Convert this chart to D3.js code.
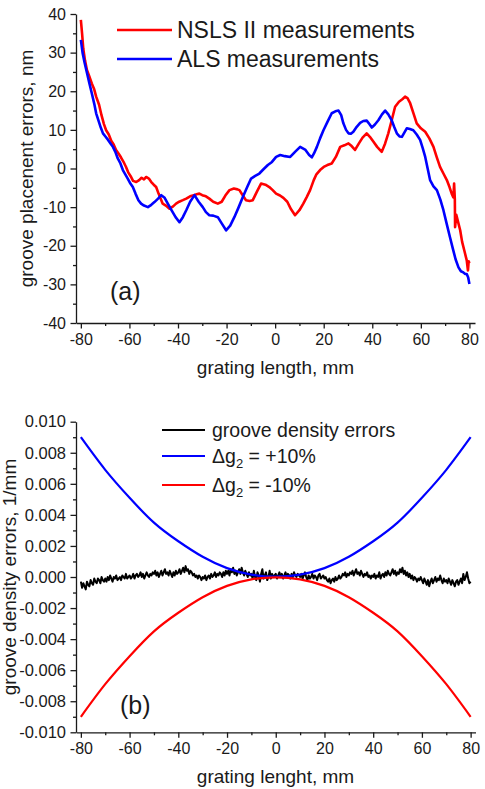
<!DOCTYPE html>
<html>
<head>
<meta charset="utf-8">
<script src="https://cdn.jsdelivr.net/npm/d3@7"></script>
<style>
  html, body { margin: 0; padding: 0; background: #fff; }
  svg { display: block; font-family: "Liberation Sans", Arial, sans-serif; }
</style>
</head>
<body>
<svg id="chart" width="485" height="789"></svg>
<script>
// Shared x ticks (grating position, mm)
const xTicks = [-80, -60, -40, -20, 0, 20, 40, 60, 80];
const xMinorTicks = [-70, -50, -30, -10, 10, 30, 50, 70];

// Panel (a) ticks
const topYTicks = [-40, -30, -20, -10, 0, 10, 20, 30, 40];
const topYMinor = [-35, -25, -15, -5, 5, 15, 25, 35];

// Panel (b) ticks
const bottomYTicks = [-0.010, -0.008, -0.006, -0.004, -0.002, 0.000, 0.002, 0.004, 0.006, 0.008, 0.010];
const bottomYMinor = [-0.009, -0.007, -0.005, -0.003, -0.001, 0.001, 0.003, 0.005, 0.007, 0.009];

// Panel (a): NSLS II measurements [mm, nm]
const nsls = [
  [-80, 38.5], [-79.5, 35], [-79, 31], [-78.3, 28], [-77.5, 25.5], [-76.5, 23.8], [-75.5, 22],
  [-74.5, 20.5], [-73.7, 18.6], [-72.5, 16.5], [-71.5, 13.8], [-70.5, 11.5], [-69.6, 9.9],
  [-68.5, 8.8], [-67.5, 7.2], [-66.5, 6.2], [-65.5, 4.8], [-64.5, 3.9], [-63.5, 2.9], [-62.5, 1.8],
  [-61.4, 0.4], [-60.5, -1.0], [-59.5, -2.0], [-58.5, -3.2], [-57.2, -3.5], [-56, -3.0], [-55, -2.4],
  [-54, -2.8], [-53.1, -2.2], [-52, -2.6], [-51, -3.5], [-50, -4.2], [-49, -4.8], [-48, -6.5],
  [-47, -8.0], [-46.3, -9.1], [-45, -9.6], [-43.5, -10.4], [-42, -9.8], [-40.8, -9.1], [-39.5, -8.6],
  [-38, -8.2], [-36.6, -7.8], [-35, -7.2], [-33.5, -6.9], [-32, -6.6], [-31.2, -6.5], [-30, -6.9],
  [-28.5, -7.2], [-27.1, -7.8], [-25.5, -8.6], [-23.6, -9.1], [-22, -8.6], [-20.5, -7.0], [-18.8, -5.6],
  [-17, -5.2], [-15.5, -5.4], [-14.7, -5.6], [-13.5, -6.8], [-12, -8.2], [-10.5, -8.4], [-9.2, -8.2],
  [-7.5, -6.0], [-5.8, -3.9], [-4, -4.2], [-2.4, -4.8], [-1, -5.6], [0.4, -6.5], [2, -7.0], [3.4, -7.6],
  [5, -8.6], [6.5, -10.5], [8.2, -12.1], [10, -10.8], [11.6, -9.1], [13, -7.4], [14.4, -5.6],
  [15.9, -3.0], [17, -1.5], [18.5, -0.4], [20, 0.4], [21.5, 0.9], [23.3, 1.3], [25, 3.0], [26.8, 5.6],
  [28.5, 6.0], [30.2, 6.5], [31.5, 5.8], [32.9, 4.8], [34.5, 6.5], [36, 8.0], [37.7, 9.1], [39, 8.2],
  [40.5, 6.9], [42, 5.6], [43.9, 4.3], [45.3, 6.5], [46.6, 9.1], [48, 12.5], [49.4, 16.0], [51, 17.3],
  [52.5, 18.0], [53.5, 18.6], [54.5, 18.2], [55.6, 16.9], [57, 14.2], [58.3, 11.7], [60, 10.4],
  [61.8, 9.5], [63.5, 7.8], [65.2, 5.6], [66.5, 3.0], [67.9, 0.4], [69.3, -1.3], [70.7, -3.0],
  [71.8, -4.8], [72.7, -6.5], [73.4, -7.5], [73.7, -3.9], [74.0, -8], [74.1, -15.2], [74.6, -12],
  [75.2, -13.5], [76.2, -16.0], [77.0, -19.0], [78.0, -21.5], [78.9, -23.8], [79.4, -26.4],
  [79.7, -24.0], [80, -24.5]
];

// Panel (a): ALS measurements [mm, nm]
const als = [
  [-80, 33.3], [-79.3, 30], [-78.5, 27.5], [-77.5, 24.8], [-76.5, 22.1], [-75.5, 19.5], [-74.5, 16.8],
  [-73.7, 14.3], [-72.8, 12.5], [-71.8, 10.6], [-70.9, 9.1], [-69.8, 8.2], [-68.8, 7.4], [-67.8, 6.5],
  [-66.8, 5.6], [-65.8, 4.3], [-64.8, 2.6], [-63.7, 1.3], [-62.7, -0.4], [-61.7, -1.5], [-60.7, -2.6],
  [-59.6, -3.9], [-58.6, -4.8], [-57.5, -6.5], [-56.3, -8.2], [-55.2, -9.1], [-54, -9.6], [-52.4, -10.0],
  [-51, -9.4], [-49.7, -8.7], [-48.2, -7.8], [-46.9, -6.9], [-45.5, -7.6], [-44.2, -9.1], [-42.5, -11.0],
  [-41, -12.6], [-39.4, -13.9], [-38, -12.6], [-36.6, -10.8], [-35, -8.6], [-33.2, -6.9], [-31.5, -8.6],
  [-29.8, -10.0], [-28.5, -11.3], [-27.1, -12.1], [-25.5, -12.2], [-23.6, -12.6], [-22, -14.2],
  [-20.2, -16.0], [-18.5, -14.8], [-16.8, -12.6], [-15, -10.0], [-13.3, -7.4], [-11.5, -4.8],
  [-9.9, -2.6], [-8.2, -1.9], [-6.5, -1.3], [-4.8, -0.2], [-3.0, 0.9], [-1.3, 1.7], [0.4, 3.0],
  [2.1, 3.5], [4, 3.2], [6.2, 3.0], [8.2, 4.3], [10.3, 5.6], [12.5, 4.8], [14, 3.5], [15.1, 2.9],
  [16, 3.9], [17.2, 5.6], [18.5, 7.8], [19.9, 9.9], [21.5, 12.0], [23.3, 14.3], [24.8, 14.8],
  [26.1, 15.0], [27.2, 13.8], [28.1, 11.7], [29.2, 10.0], [30.2, 9.1], [31.2, 9.0], [32.2, 9.5],
  [33.6, 10.8], [35.0, 11.8], [36.3, 12.3], [37.7, 12.4], [38.8, 11.5], [39.8, 10.6], [41.1, 11.4],
  [42.5, 12.5], [44, 14.0], [45.3, 15.0], [46.6, 14.0], [48.0, 12.5], [49, 10.8], [50.1, 9.1],
  [51.2, 8.3], [52.2, 8.2], [53.2, 9.3], [54.2, 10.4], [55.5, 10.2], [56.9, 9.9], [58.3, 8.8],
  [59.7, 7.4], [60.8, 5.2], [61.8, 3.0], [62.8, 0.0], [63.8, -3.0], [65.2, -4.6], [66.6, -5.6],
  [68, -8.0], [69.3, -10.8], [70.6, -14.2], [72.0, -17.8], [73.2, -20.8], [74.3, -23.5], [75.5, -25.6],
  [76.5, -26.6], [77.5, -26.9], [78.3, -27.3], [78.9, -27.3], [79.5, -28.2], [80, -29.9]
];

// Panel (b): groove density errors, one value per 0.5 mm from -80 to 80, in units of 1e-4 1/mm
const densityErrE4 = [
  -3, -7, -4, -6, -8, -3, -5, -6, -2, -4, -5, -1, -3, -4, -1, -2, -4, 0, -2, -3,
  -1, -3, 0, -2, 1, -1, -3, 0, -1, 1, -2, -1, 0, -2, 1, 0, -1, 2, -1, 0,
  1, -1, 0, 2, -1, 1, 2, 0, 1, 3, 0, 2, -1, 1, 3, 1, 0, 2, 1, 3,
  2, 4, 1, 3, 0, 2, 4, 1, 3, 5, 2, 3, 1, 4, 2, 0, 3, 1, 4, 2,
  3, 5, 2, 4, 6, 3, 7, 4, 5, 2, 4, 3, 1, 2, 0, 1, -1, 1, 0, -2,
  0, -1, 1, -2, 0, 1, -1, 2, 0, 1, 3, 0, 2, 1, 3, 2, 0, 3, 1, 4,
  2, 4, 1, 5, 3, 6, 2, 4, 1, 3, 5, 2, 6, 3, 1, 4, 2, 0, 3, 1,
  2, -1, 4, 0, -2, 3, 1, -3, 2, 5, -1, 1, 3, -2, 0, 4, -1, 2, 0, 1,
  2, -1, 1, 3, 0, 2, -1, 1, 3, 0, 2, 1, -1, 2, 0, 3, 1, 0, 2, 1,
  0, 2, -1, 1, 3, 0, -2, 1, -1, 0, 2, -1, 1, 0, -2, 1, 2, -1, 0, 1,
  -1, 0, -2, -3, -1, -4, -2, -1, -3, 0, -2, -1, 1, -1, 0, 2, 1, 3, 0, 2,
  1, 3, 2, 4, 1, 3, 5, 2, 3, 1, 4, 2, 0, 2, 1, 3, 0, 1, -1, 1,
  0, 2, -1, 1, 0, 3, -1, 1, 2, 0, 3, 1, 4, 2, 1, 3, 5, 2, 4, 1,
  3, 2, 5, 3, 6, 2, 4, 1, 3, 0, 2, -1, 1, -2, 0, -1, -3, -1, -2, 0,
  -2, -4, -1, -3, -5, -2, -6, -3, -1, -4, -2, 0, -3, -1, -2, 1, -2, -4, -1, -3,
  -2, -4, -1, -3, -5, -2, -4, -6, -3, -2, -5, -3, -1, -4, 2, -2, 0, 3, -1, -4,
  -3
];
const densityStep = 0.5;

// Panel (b): curves for delta g2 = +10% / -10%, every 10 mm
const gPositions = [-80, -70, -60, -50, -40, -30, -20, -10, 0, 10, 20, 30, 40, 50, 60, 70, 80];
const gPlus10 = [0.0090, 0.0069, 0.0051, 0.0035, 0.0023, 0.0013, 0.00057, 0.00015, 0.00002, 0.00015, 0.00057, 0.0013, 0.0023, 0.0035, 0.0051, 0.0069, 0.0090];
const gMinus10 = [-0.0090, -0.0069, -0.0051, -0.0035, -0.0023, -0.0013, -0.00057, -0.00015, -0.00002, -0.00015, -0.00057, -0.0013, -0.0023, -0.0035, -0.0051, -0.0069, -0.0090];

const svg = d3.select('#chart');
const axisColor = '#1a1a1a';

// Draw the left and bottom axes of one panel with major and minor ticks
function drawAxes(x, y, yTicks, yMinor, yFormat, yFontSize) {
  const bottom = y.range()[0];
  const left = x.range()[0];

  const gx = svg.append('g').attr('transform', `translate(0,${bottom})`);
  gx.append('g')
    .call(d3.axisBottom(x).tickValues(xMinorTicks).tickSize(3).tickSizeOuter(0).tickFormat(''))
    .call((g) => g.select('.domain').remove());
  gx.append('g')
    .call(d3.axisBottom(x).tickValues(xTicks).tickSize(5.5).tickSizeOuter(0).tickPadding(5).tickFormat((d) => String(d)))
    .selectAll('text')
    .attr('font-size', 16);

  const gy = svg.append('g').attr('transform', `translate(${left},0)`);
  gy.append('g')
    .call(d3.axisLeft(y).tickValues(yMinor).tickSize(3).tickSizeOuter(0).tickFormat(''))
    .call((g) => g.select('.domain').remove());
  gy.append('g')
    .call(d3.axisLeft(y).tickValues(yTicks).tickSize(5.5).tickSizeOuter(0).tickPadding(4.5).tickFormat(yFormat))
    .selectAll('text')
    .attr('font-size', yFontSize);

  svg.selectAll('.domain, .tick line').attr('stroke', axisColor).attr('stroke-width', 1.3);
  svg.selectAll('.tick text').attr('fill', '#1a1a1a').attr('font-family', '"Liberation Sans", Arial, sans-serif');
}

// ---------- Panel (a) ----------
const xTop = d3.scaleLinear().domain([-82, 82.3]).range([76, 475]);
const yTop = d3.scaleLinear().domain([-40, 40]).range([323, 14]);

drawAxes(xTop, yTop, topYTicks, topYMinor, (d) => String(d), 16);

const lineTop = d3.line().x((d) => xTop(d[0])).y((d) => yTop(d[1]));

svg.append('path').datum(nsls)
  .attr('d', lineTop).attr('fill', 'none').attr('stroke', '#ff0000')
  .attr('stroke-width', 2.6).attr('stroke-linejoin', 'round');

svg.append('path').datum(als)
  .attr('d', lineTop).attr('fill', 'none').attr('stroke', '#0000ff')
  .attr('stroke-width', 2.6).attr('stroke-linejoin', 'round');

// Legend (a)
const legendTop = [
  { label: 'NSLS II measurements', color: '#ff0000', y: 30 },
  { label: 'ALS measurements', color: '#0000ff', y: 59 }
];
legendTop.forEach((d) => {
  svg.append('line').attr('x1', 117).attr('x2', 172).attr('y1', d.y).attr('y2', d.y)
    .attr('stroke', d.color).attr('stroke-width', 2.6);
  svg.append('text').attr('x', 177).attr('y', d.y + 8.3)
    .attr('font-size', 23).attr('fill', '#1a1a1a').text(d.label);
});

svg.append('text').attr('x', 110).attr('y', 300).attr('font-size', 25).attr('fill', '#1a1a1a').text('(a)');

svg.append('text').attr('transform', 'rotate(-90)').attr('x', -168.5).attr('y', 33)
  .attr('text-anchor', 'middle').attr('font-size', 19).attr('fill', '#1a1a1a')
  .text('groove placenent errors, nm');

svg.append('text').attr('x', 275.5).attr('y', 374).attr('text-anchor', 'middle')
  .attr('font-size', 19).attr('fill', '#1a1a1a').text('grating length, mm');

// ---------- Panel (b) ----------
const xBot = d3.scaleLinear().domain([-82, 82]).range([76, 475.5]);
const yBot = d3.scaleLinear().domain([-0.010, 0.010]).range([732.3, 421.7]);

drawAxes(xBot, yBot, bottomYTicks, bottomYMinor, (d) => d.toFixed(3), 16.5);

const densityPoints = densityErrE4.map((v, i) => [xTicks[0] + i * densityStep, v * 1e-4]);
const plusPoints = gPositions.map((p, i) => [p, gPlus10[i]]);
const minusPoints = gPositions.map((p, i) => [p, gMinus10[i]]);

const lineBot = d3.line().x((d) => xBot(d[0])).y((d) => yBot(d[1]));
const smoothBot = d3.line().x((d) => xBot(d[0])).y((d) => yBot(d[1])).curve(d3.curveNatural);

svg.append('path').datum(densityPoints)
  .attr('d', lineBot).attr('fill', 'none').attr('stroke', '#000')
  .attr('stroke-width', 2).attr('stroke-linejoin', 'round');

svg.append('path').datum(plusPoints)
  .attr('d', smoothBot).attr('fill', 'none').attr('stroke', '#0000ff').attr('stroke-width', 2.2);

svg.append('path').datum(minusPoints)
  .attr('d', smoothBot).attr('fill', 'none').attr('stroke', '#ff0000').attr('stroke-width', 2.2);

// Legend (b)
const legendBot = [
  { label: 'groove density errors', color: '#000', y: 430 },
  { sign: '+10%', color: '#0000ff', y: 456 },
  { sign: '-10%', color: '#ff0000', y: 485 }
];
legendBot.forEach((d) => {
  svg.append('line').attr('x1', 162).attr('x2', 205).attr('y1', d.y).attr('y2', d.y)
    .attr('stroke', d.color).attr('stroke-width', 2.2);
  const t = svg.append('text').attr('x', 212).attr('y', d.y + 7)
    .attr('font-size', 19.5).attr('fill', '#1a1a1a');
  if (d.label) {
    t.text(d.label);
  } else {
    t.append('tspan').text('\u0394g');
    t.append('tspan').attr('font-size', 13).attr('dy', 5).text('2');
    t.append('tspan').attr('dy', -5).text(' = ' + d.sign);
  }
});

svg.append('text').attr('x', 120).attr('y', 714).attr('font-size', 25).attr('fill', '#1a1a1a').text('(b)');

svg.append('text').attr('transform', 'rotate(-90)').attr('x', -577).attr('y', 15.5)
  .attr('text-anchor', 'middle').attr('font-size', 19).attr('fill', '#1a1a1a')
  .text('groove density errors, 1/mm');

svg.append('text').attr('x', 275.5).attr('y', 783).attr('text-anchor', 'middle')
  .attr('font-size', 19).attr('fill', '#1a1a1a').text('grating lenght, mm');
</script>
</body>
</html>
